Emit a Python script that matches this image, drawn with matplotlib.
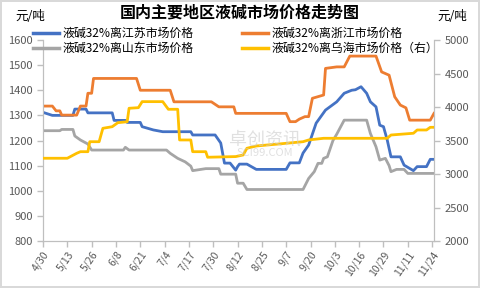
import pandas as pd
import matplotlib
matplotlib.use('Agg')
import matplotlib.pyplot as plt
from matplotlib.lines import Line2D

plt.rcParams['font.family'] = ['Noto Sans CJK SC', 'DejaVu Sans']

YEAR = '2021-'

# 液碱32%离江苏市场价格 (左轴)
js_dates = ['04-30', '05-05', '05-16', '05-17', '05-23', '05-24', '06-06', '06-07', '06-13', '06-14',
            '06-21', '06-22', '06-28', '07-03', '07-18', '07-19', '07-31', '08-03', '08-05', '08-08',
            '08-11', '08-12', '08-13', '08-17', '08-22', '09-07', '09-09', '09-14', '09-16', '09-19',
            '09-23', '09-28', '10-04', '10-08', '10-12', '10-14', '10-17', '10-20', '10-22', '10-25',
            '10-27', '10-29', '10-31', '11-02', '11-07', '11-09', '11-14', '11-16', '11-21', '11-23', '11-25']
js_vals = [1312, 1300, 1300, 1325, 1325, 1310, 1310, 1280, 1280, 1272,
           1272, 1255, 1242, 1235, 1235, 1222, 1222, 1190, 1110, 1110,
           1082, 1096, 1106, 1106, 1085, 1085, 1111, 1111, 1150, 1182,
           1269, 1321, 1354, 1388, 1400, 1402, 1414, 1388, 1354, 1334,
           1261, 1255, 1202, 1135, 1135, 1102, 1080, 1096, 1096, 1125, 1125]

# 液碱32%离浙江市场价格 (左轴)
zj_dates = ['04-30', '05-05', '05-07', '05-09', '05-10', '05-18', '05-20', '05-23', '05-24', '05-26',
            '05-27', '06-19', '06-21', '07-07', '07-09', '07-29', '08-02', '08-10', '08-11', '09-07',
            '09-09', '09-12', '09-14', '09-17', '09-19', '09-21', '09-27', '09-28', '10-04', '10-08',
            '10-11', '10-25', '10-28', '11-01', '11-04', '11-07', '11-10', '11-12', '11-23', '11-25']
zj_vals = [1337, 1337, 1318, 1318, 1301, 1301, 1337, 1337, 1388, 1388,
           1447, 1447, 1400, 1400, 1354, 1354, 1334, 1334, 1308, 1308,
           1275, 1275, 1285, 1295, 1295, 1368, 1381, 1487, 1493, 1493,
           1536, 1536, 1473, 1460, 1374, 1341, 1330, 1281, 1281, 1308]

# 液碱32%离山东市场价格 (左轴)
sd_dates = ['04-30', '05-09', '05-10', '05-16', '05-17', '05-20', '05-24', '05-26', '06-12', '06-13',
            '06-15', '07-05', '07-07', '07-11', '07-15', '07-18', '07-19', '07-26', '08-02', '08-03',
            '08-11', '08-12', '08-15', '08-17', '09-16', '09-19', '09-22', '09-24', '09-26', '09-27',
            '09-29', '10-02', '10-04', '10-08', '10-20', '10-22', '10-25', '10-27', '10-30', '11-01',
            '11-02', '11-05', '11-09', '11-11', '11-25']
sd_vals = [1239, 1239, 1244, 1244, 1218, 1202, 1186, 1162, 1162, 1173,
           1162, 1162, 1149, 1129, 1115, 1098, 1080, 1088, 1088, 1066,
           1066, 1030, 1030, 1005, 1005, 1049, 1076, 1109, 1109, 1129,
           1135, 1200, 1225, 1281, 1281, 1228, 1175, 1122, 1129, 1100,
           1076, 1085, 1085, 1069, 1069]

# 液碱32%离乌海市场价格 (右轴)
wh_dates = ['04-30', '05-13', '05-18', '05-20', '05-24', '05-25', '05-30', '06-01', '06-06', '06-09',
            '06-14', '06-15', '06-20', '06-22', '07-03', '07-06', '07-11', '07-12', '07-18', '07-19',
            '07-26', '07-27', '08-11', '08-15', '08-17', '08-22', '09-03', '09-16', '09-19', '09-27',
            '10-31', '11-02', '11-14', '11-16', '11-21', '11-23', '11-25']
wh_vals = [3235, 3235, 3309, 3333, 3333, 3482, 3482, 3682, 3706, 3766,
           3780, 3981, 3990, 4080, 4080, 3966, 3966, 3508, 3508, 3333,
           3333, 3250, 3260, 3284, 3384, 3418, 3448, 3482, 3508, 3533,
           3533, 3582, 3608, 3657, 3657, 3697, 3697]

labels = ['液碱32%离江苏市场价格', '液碱32%离浙江市场价格',
          '液碱32%离山东市场价格', '液碱32%离乌海市场价格（右）']
colors = ['#4472C4', '#ED7D31', '#A5A5A5', '#FFC000']


def to_dt(lst):
    return pd.to_datetime([YEAR + d for d in lst])


fig = plt.figure(figsize=(4.8, 2.88), dpi=100)
fig.patch.set_edgecolor('#d9d9d9')
fig.patch.set_linewidth(1.5)
ax = fig.add_axes([43 / 480, 1 - 241 / 288, (434 - 43) / 480, (241 - 40) / 288])
ax2 = ax.twinx()

lw = 2.0
ax.plot(to_dt(js_dates), js_vals, color=colors[0], lw=lw, zorder=3)
ax.plot(to_dt(zj_dates), zj_vals, color=colors[1], lw=lw, zorder=3)
ax.plot(to_dt(sd_dates), sd_vals, color=colors[2], lw=lw, zorder=3)
ax2.plot(to_dt(wh_dates), wh_vals, color=colors[3], lw=lw, zorder=3)

ax.set_xlim(pd.Timestamp('2021-04-30'), pd.Timestamp('2021-11-25'))
ax.set_ylim(800, 1600)
ax.set_yticks(range(800, 1601, 100))
ax2.set_ylim(2000, 5000)
ax2.set_yticks(range(2000, 5001, 500))

ticks = pd.date_range('2021-04-30', '2021-11-24', freq='13D')
ax.set_xticks(ticks)
ax.set_xticklabels([f'{t.month}/{t.day}' for t in ticks], rotation=55,
                   ha='right', va='top', rotation_mode='anchor')

tick_color = '#595959'
spine_color = '#bfbfbf'
for a in (ax, ax2):
    for s in a.spines.values():
        s.set_color(spine_color)
    a.spines['top'].set_visible(False)
    a.tick_params(colors=spine_color, labelcolor=tick_color, labelsize=8, length=4, width=1)
ax.tick_params(axis='x', labelsize=7.5, pad=2)

fig.text(240 / 480, 1 - 13 / 288, '国内主要地区液碱市场价格走势图', ha='center', va='center',
         fontsize=11.5, fontweight='bold', color='black')
fig.text(30 / 480, 1 - 17 / 288, '元/吨', ha='center', va='center', fontsize=9, color='black')
fig.text(452 / 480, 1 - 17 / 288, '元/吨', ha='center', va='center', fontsize=9, color='black')

# 水印
fig.text(265 / 480, 1 - 140 / 288, '卓创资讯', ha='center', va='center', fontsize=13,
         color='#cccccc', alpha=0.6, zorder=0)
fig.text(265 / 480, 1 - 153 / 288, 'SCI99.COM', ha='center', va='center', fontsize=8,
         color='#cccccc', alpha=0.6, zorder=0)

handles = [Line2D([], [], color=colors[i], lw=2.5) for i in (0, 2, 1, 3)]
leg_labels = [labels[i] for i in (0, 2, 1, 3)]
fig.legend(handles, leg_labels, ncol=2, loc='upper left', bbox_to_anchor=(33 / 480, 1 - 27 / 288),
           frameon=False, fontsize=8.6, handlelength=2.2, handletextpad=0.3,
           columnspacing=4.0, labelspacing=0.15, borderpad=0, borderaxespad=0)

fig.savefig('out.png', dpi=100)
